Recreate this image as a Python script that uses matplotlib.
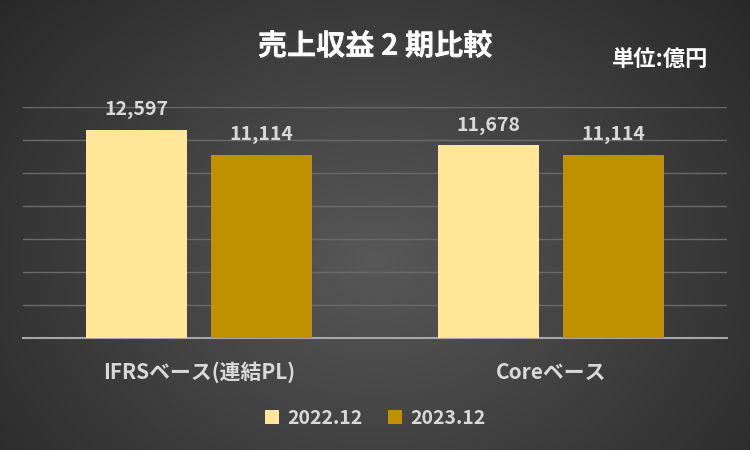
import matplotlib.pyplot as plt
import matplotlib.patheffects as pe
import numpy as np

plt.rcParams["font.family"] = ["Noto Sans CJK JP", "DejaVu Sans"]

# Daten
kategorien = ["IFRSベース(連結PL)", "Coreベース"]
serien = ["2022.12", "2023.12"]
werte_2022 = [12597, 11678]
werte_2023 = [11114, 11114]
farben = ["#FFE699", "#BF9000"]
text_farbe = "#D9D9D9"

fig = plt.figure(figsize=(7.5, 4.5), dpi=100)

# Hintergrund mit radialem Verlauf
bg = fig.add_axes([0, 0, 1, 1], zorder=0)
yy, xx = np.mgrid[0:450, 0:750]
r = np.sqrt(((xx - 375) / 520) ** 2 + ((yy - 260) / 420) ** 2)
r = np.clip(r, 0, 1)
hell = np.array([0x58, 0x58, 0x58]) / 255
dunkel = np.array([0x26, 0x26, 0x26]) / 255
img = hell[None, None, :] * (1 - r[..., None]) + dunkel[None, None, :] * r[..., None]
bg.imshow(img, aspect="auto", extent=[0, 1, 0, 1])
bg.axis("off")

ax = fig.add_axes([23 / 750, 1 - 338 / 450, 704 / 750, 231 / 450], zorder=1)
ax.patch.set_alpha(0)

x = np.arange(len(kategorien))
breite = 0.287
versatz = 0.1776
balken1 = ax.bar(x - versatz, werte_2022, breite, color=farben[0], label=serien[0], zorder=3)
balken2 = ax.bar(x + versatz, werte_2023, breite, color=farben[1], label=serien[1], zorder=3)

for balken in (balken1, balken2):
    for b in balken:
        ax.text(
            b.get_x() + b.get_width() / 2,
            b.get_height() + 650,
            f"{b.get_height():,.0f}",
            ha="center",
            va="bottom",
            color=text_farbe,
            fontsize=14,
            fontweight="bold",
        )

ax.set_xlim(-0.5, 1.5)
ax.set_ylim(0, 14000)
ax.set_yticks(np.arange(0, 14001, 2000))
ax.yaxis.grid(True, color="#6A6A6A", linewidth=1, zorder=0)
ax.tick_params(axis="y", length=0, labelleft=False)
ax.tick_params(axis="x", length=0, pad=17)
ax.set_xticks(x)
ax.set_xticklabels(kategorien, color=text_farbe, fontsize=15, fontweight="bold")
for s in ["top", "left", "right"]:
    ax.spines[s].set_visible(False)
ax.spines["bottom"].set_color("#A6A6A6")
ax.spines["bottom"].set_linewidth(1.5)

leg = fig.legend(
    handles=[balken1, balken2],
    labels=serien,
    loc="center",
    bbox_to_anchor=(0.5, 1 - 418 / 450),
    ncol=2,
    frameon=False,
    fontsize=14,
    handlelength=0.75,
    handleheight=0.75,
    columnspacing=1.3,
    handletextpad=0.4,
)
for t in leg.get_texts():
    t.set_color(text_farbe)
    t.set_fontweight("bold")

fig.text(
    0.5,
    1 - 46 / 450,
    "売上収益 2 期比較",
    ha="center",
    va="center",
    color="white",
    fontsize=21,
    fontweight="bold",
    path_effects=[pe.withSimplePatchShadow(offset=(1.5, -1.5), alpha=0.6), pe.Normal()],
)
fig.text(
    660 / 750,
    1 - 60 / 450,
    "単位:億円",
    ha="center",
    va="center",
    color="white",
    fontsize=16,
    fontweight="bold",
)

fig.savefig("out.png", dpi=100)
